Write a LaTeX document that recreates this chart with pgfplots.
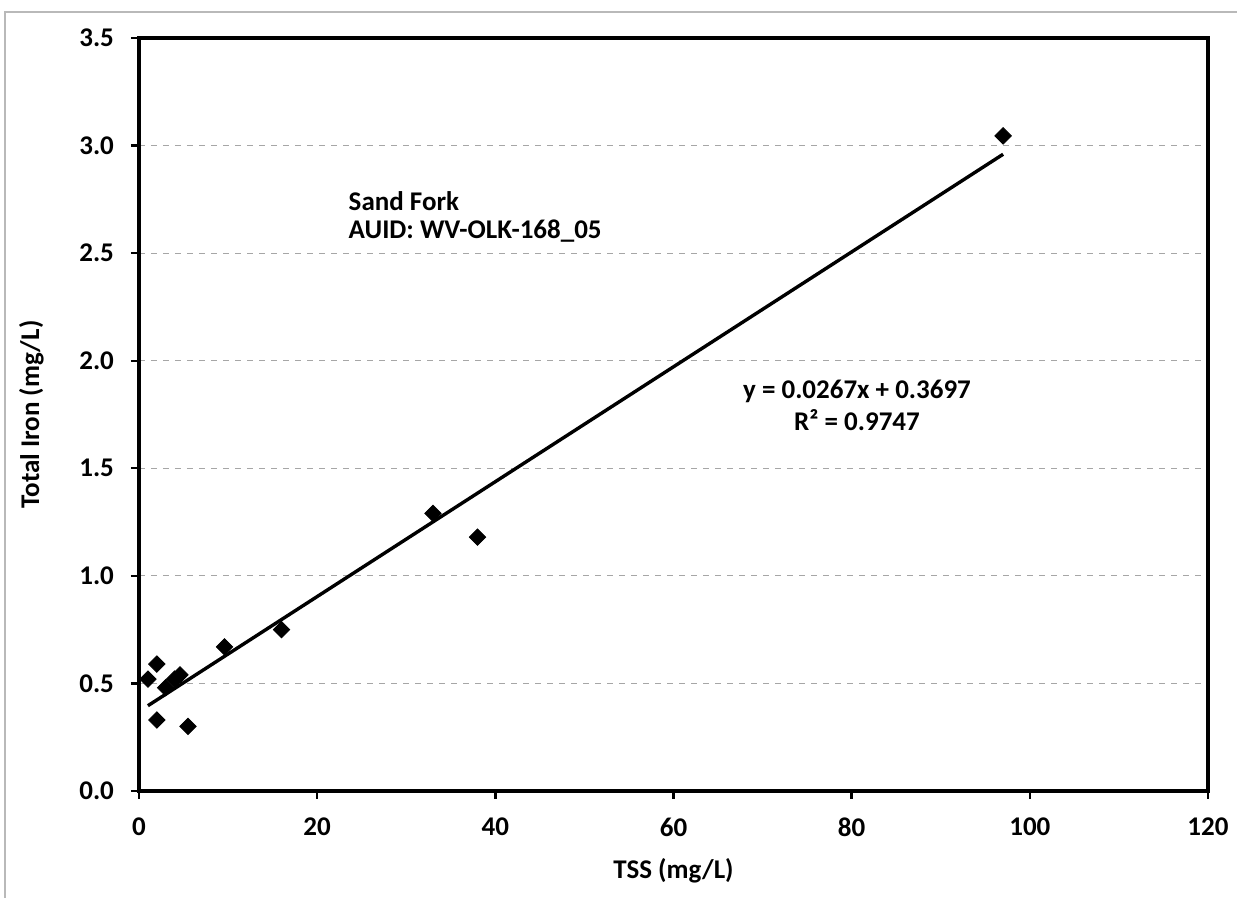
\documentclass[border=0pt]{standalone}
\usepackage{pgfplots}
\pgfplotsset{compat=1.18}
\usepackage{fontspec}
\setmainfont{Carlito}
\begin{document}
\begin{tikzpicture}
\begin{scope}[x=0.5pt,y=0.5pt]
\useasboundingbox (-139,-107) rectangle (1098,791);
\draw[gray!55,line width=1pt] (-134,-107) -- (-134,779) -- (1098,779);
\end{scope}
\begin{axis}[
  at={(0,0)}, anchor=south west,
  scale only axis,
  width=534.5pt, height=376.5pt,
  xmin=0, xmax=120, ymin=0, ymax=3.5,
  xtick={0,20,...,120},
  ytick={0,0.5,...,3.5},
  axis line style={line width=1.8pt},
  tick style={black, line width=1.2pt},
  major tick length=4pt,
  tick align=outside,
  xtick pos=bottom, ytick pos=left,
  ymajorgrids,
  grid style={dashed, gray!70, line width=0.6pt},
  /pgf/number format/assume math mode=true,
  yticklabel={\pgfmathprintnumber[fixed,fixed zerofill,precision=1]{\tick}},
  xticklabel style={yshift=-6pt},
  yticklabel style={xshift=-5pt},
  ticklabel style={font=\fontsize{13.5}{15}\selectfont\bfseries},
  label style={font=\fontsize{13.5}{15}\selectfont\bfseries},
  xlabel={TSS (mg/L)},
  ylabel={Total Iron (mg/L)},
  xlabel style={yshift=-4pt},
  ylabel style={yshift=11pt},
  clip=false,
]
\addplot[only marks, mark=square*, mark size=2.9pt, mark options={rotate=45, fill=black}, draw=black]
coordinates {
(1,0.52) (2,0.59) (2,0.33) (3,0.48) (4,0.52) (4.6,0.54) (5.5,0.30)
(9.6,0.67) (16,0.75) (33,1.29) (38,1.18) (97,3.045)
};
\addplot[black, line width=1.7pt] coordinates {(1,0.3964) (97,2.9596)};
\node[anchor=west, inner sep=0pt, font=\fontsize{13.5}{15}\selectfont\bfseries] at (axis cs:23.5,2.743) {Sand Fork};
\node[anchor=west, inner sep=0pt, font=\fontsize{13.5}{15}\selectfont\bfseries] at (axis cs:23.5,2.603) {AUID: WV-OLK-168\_05};
\node[font=\fontsize{13.5}{15}\selectfont\bfseries] at (axis cs:80.6,1.855) {y = 0.0267x + 0.3697};
\node[font=\fontsize{13.5}{15}\selectfont\bfseries] at (axis cs:80.6,1.725) {R² = 0.9747};
\end{axis}
\end{tikzpicture}
\end{document}
